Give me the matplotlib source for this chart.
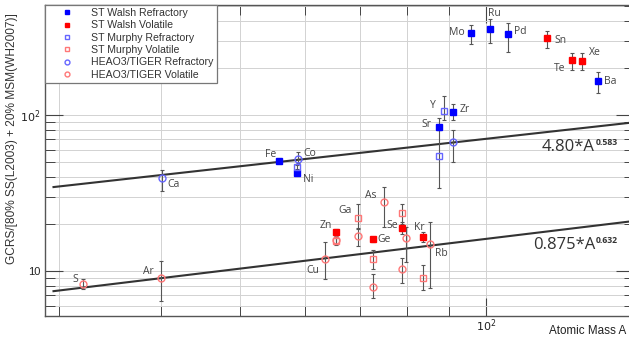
import numpy as np
import matplotlib
matplotlib.use("Agg")
import matplotlib.pyplot as plt
from matplotlib.ticker import FixedLocator, LogLocator, NullFormatter, FuncFormatter

plt.rcParams['font.family'] = ['Liberation Sans', 'DejaVu Sans']

# ---------------- data: atomic mass A, abundance ratio, error bounds ----------------
# ST Walsh Refractory
walsh_ref_el = ["Fe", "Ni", "Sr", "Zr", "Mo", "Ru", "Pd", "Ba"]
walsh_ref_A = [55.8, 58.7, 87.6, 91.2, 95.9, 101.1, 106.4, 137.3]
walsh_ref_y = [50.7, 42.5, 83.8, 104.5, 336, 356, 330, 165]
walsh_ref_hi = [52.0, 44.0, 96.0, 118, 378, 412, 389, 189]
walsh_ref_lo = [49.5, 41.0, 80.0, 93.0, 285, 289, 253, 138]

# ST Walsh Volatile
walsh_vol_el = ["Zn", "Ge", "Se", "Kr", "Sn", "Te", "Xe"]
walsh_vol_A = [65.4, 72.6, 79.0, 83.8, 118.7, 127.6, 131.3]
walsh_vol_y = [17.8, 16.0, 18.9, 16.5, 312, 225, 222]
walsh_vol_hi = [18.5, 16.6, 20.5, 17.8, 345, 250, 250]
walsh_vol_lo = [17.1, 15.4, 17.3, 15.3, 268, 194, 194]

# ST Murphy Refractory
murphy_ref_A = [58.7, 87.6, 88.9]
murphy_ref_y = [46.4, 54.6, 106]
murphy_ref_hi = [48.0, 80.2, 132]
murphy_ref_lo = [44.8, 34.0, 92.9]

# ST Murphy Volatile
murphy_vol_A = [65.4, 69.7, 72.6, 79.0, 83.8]
murphy_vol_y = [15.6, 21.9, 11.9, 23.5, 9.0]
murphy_vol_hi = [16.6, 26.8, 13.6, 27.0, 10.9]
murphy_vol_lo = [14.6, 18.5, 10.3, 20.0, 7.6]

# HEAO3/TIGER Refractory
heao_ref_A = [40.1, 58.9, 91.2]
heao_ref_y = [39.5, 52.3, 67.1]
heao_ref_hi = [44.3, 57.9, 80.2]
heao_ref_lo = [32.6, 49.3, 50.0]

# HEAO3/TIGER Volatile
heao_vol_A = [32.1, 39.95, 63.5, 65.4, 69.7, 72.6, 74.9, 79.0, 79.9, 85.5]
heao_vol_y = [8.26, 9.0, 11.9, 15.8, 16.8, 7.9, 27.7, 10.3, 16.3, 14.9]
heao_vol_hi = [8.9, 11.6, 15.3, 16.8, 19.0, 9.6, 34.5, 12.1, 19.1, 20.6]
heao_vol_lo = [7.7, 6.4, 8.9, 14.8, 14.4, 6.7, 19.1, 8.4, 11.4, 7.8]

# power-law fits  y = c * A**k
fit_ref = (4.80, 0.583)
fit_vol = (0.875, 0.632)
fit_ref_text = ("4.80*A", "0.583")
fit_vol_text = ("0.875*A", "0.632")

# element labels: (name, A, y) anchor
label_el = ["S", "Ar", "Ca", "Fe", "Co", "Ni", "Cu", "Zn", "Ga", "Ge", "As", "Se",
            "Kr", "Rb", "Sr", "Y", "Zr", "Mo", "Ru", "Pd", "Sn", "Te", "Xe", "Ba"]
label_A = [32.1, 39.95, 40.1, 55.8, 58.9, 58.7, 63.5, 65.4, 69.7, 72.6, 74.9, 79.0,
           83.8, 85.5, 87.6, 88.9, 91.2, 95.9, 101.1, 106.4, 118.7, 127.6, 131.3, 137.3]
label_y = [8.26, 9.0, 39.5, 50.7, 52.3, 42.5, 11.9, 17.8, 21.9, 16.0, 27.7, 18.9,
           16.5, 14.9, 83.8, 106, 104.5, 336, 356, 330, 312, 225, 222, 165]
# text offsets in points (dx, dy)
label_off = [(-6, 3), (-9, 5), (8, -5), (-6, 5), (8, 4), (8, -5), (-9, -8), (-7, 5),
             (-9, 5), (8, 0), (-9, 5), (-7, 2), (-3, 7), (8, -7), (-9, 2), (-8, 4),
             (8, 2), (-10, 0), (3, 11), (9, 2), (10, -2), (-9, -6), (9, 6), (9, 0)]

# ---------------- figure ----------------
W, H = 629, 349
fig = plt.figure(figsize=(W / 100, H / 100), dpi=100)
ax = fig.add_axes([45 / W, 33 / H, 589 / W, 311 / H])
ax.set_xscale("log")
ax.set_yscale("log")
ax.set_xlim(28.8, 151.9)
ax.set_ylim(5.15, 507)

ax.grid(which="both", color="#d2d2d2", lw=0.7, zorder=0)
ax.set_axisbelow(True)

for s in ax.spines.values():
    s.set_color("#555555")
    s.set_linewidth(1.0)

ax.xaxis.set_major_locator(FixedLocator([100]))
ax.xaxis.set_minor_locator(LogLocator(base=10, subs=np.arange(2, 10)))
ax.yaxis.set_major_locator(FixedLocator([10, 100]))
ax.yaxis.set_minor_locator(LogLocator(base=10, subs=np.arange(2, 10)))
ax.xaxis.set_major_formatter(FuncFormatter(lambda v, p: r"$10^2$"))
ax.yaxis.set_major_formatter(FuncFormatter(lambda v, p: "10" if v < 50 else r"$10^2$"))
ax.xaxis.set_minor_formatter(NullFormatter())
ax.yaxis.set_minor_formatter(NullFormatter())
ax.tick_params(which="both", direction="in", top=True, right=True, colors="#444444",
               labelsize=8, labelcolor="#222222")
ax.tick_params(which="major", length=13, width=0.8)
ax.tick_params(which="minor", length=7, width=0.7)
ax.tick_params(axis="x", which="major", pad=1)

# fit lines
Afit = np.logspace(np.log10(29.5), np.log10(151.9), 200)
for c, k in (fit_ref, fit_vol):
    ax.plot(Afit, c * Afit ** k, color="#333333", lw=1.5, zorder=2)

ecol = "#555555"


def series(A, y, hi, lo, marker, face, edge, label, ms, alpha=1.0):
    A = np.array(A); y = np.array(y)
    yerr = np.vstack([y - np.array(lo), np.array(hi) - y])
    ax.errorbar(A, y, yerr=yerr, fmt="none", ecolor=ecol, elinewidth=0.8,
                capsize=1.2, capthick=0.8, zorder=3)
    ax.plot(A, y, linestyle="none", marker=marker, ms=ms, mfc=face, mec=edge,
            mew=1.0, alpha=alpha, label=label, zorder=4)


series(walsh_ref_A, walsh_ref_y, walsh_ref_hi, walsh_ref_lo, "s", "#0000ff", "#0000ff",
       "ST Walsh Refractory", 4)
series(walsh_vol_A, walsh_vol_y, walsh_vol_hi, walsh_vol_lo, "s", "#ff0000", "#ff0000",
       "ST Walsh Volatile", 4)
series(murphy_ref_A, murphy_ref_y, murphy_ref_hi, murphy_ref_lo, "s", "none", "#6666ff",
       "ST Murphy Refractory", 4.5)
series(murphy_vol_A, murphy_vol_y, murphy_vol_hi, murphy_vol_lo, "s", "none", "#ff7777",
       "ST Murphy Volatile", 4.5)
series(heao_ref_A, heao_ref_y, heao_ref_hi, heao_ref_lo, "o", "none", "#6666ff",
       "HEAO3/TIGER Refractory", 5)
series(heao_vol_A, heao_vol_y, heao_vol_hi, heao_vol_lo, "o", "none", "#ff7777",
       "HEAO3/TIGER Volatile", 5)

for el, a, v, (dx, dy) in zip(label_el, label_A, label_y, label_off):
    ax.annotate(el, (a, v), xytext=(dx, dy), textcoords="offset points",
                ha="center", va="center", fontsize=7.5, color="#444444",
                family=["Open Sans", "DejaVu Sans"], zorder=5)


def fit_label(x, y, base, expo):
    t = ax.text(x, y, base, transform=ax.transAxes, ha="left", va="center",
                fontsize=12, color="#333333", family=["Open Sans", "DejaVu Sans"])
    ax.annotate(expo, xy=(1, 0.78), xycoords=t, xytext=(0.5, 0),
                textcoords="offset points", ha="left", va="center", fontsize=6.2,
                fontweight="bold", color="#333333", family=["Open Sans", "DejaVu Sans"])


fit_label((542 - 45) / 589, (316 - 147) / 311, *fit_ref_text)
fit_label((533 - 45) / 589, (316 - 245) / 311, *fit_vol_text)

leg = ax.legend(loc="upper left", bbox_to_anchor=(0, 1), borderaxespad=0, fontsize=7.6,
                frameon=True, fancybox=False, edgecolor="#777777", framealpha=1,
                handlelength=3.5, handletextpad=0.6, labelspacing=0.22,
                borderpad=0.3, markerscale=0.7)
leg.get_frame().set_linewidth(0.9)
for t in leg.get_texts():
    t.set_color("#333333")

fig.text(12 / W, 1 - 139 / H, "GCRS/[80% SS(L2003) + 20% MSM(WH2007)]", rotation=90,
         ha="center", va="center", fontsize=8.6, color="#333333")
fig.text(549 / W, 1 - 331 / H, "Atomic Mass A", ha="left", va="center",
         fontsize=8.4, color="#222222")

fig.savefig("out.png", dpi=100)
